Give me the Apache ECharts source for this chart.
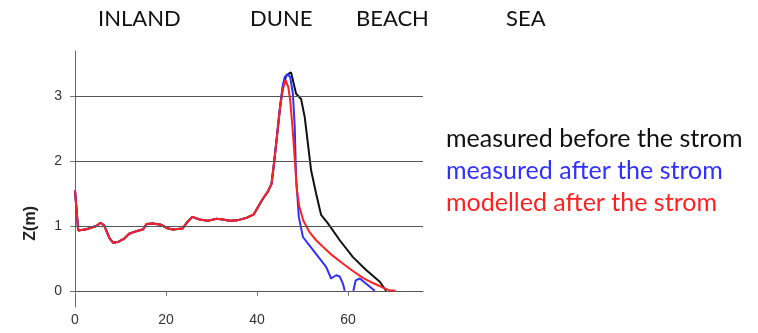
<!DOCTYPE html>
<html>
<head>
<meta charset="utf-8">
<title>Dune profile</title>
<script src="https://cdn.jsdelivr.net/npm/echarts@6/dist/echarts.min.js"></script>
<style>
  html, body { margin: 0; padding: 0; background: #fff; }
  #chart { width: 758px; height: 333px; }
</style>
</head>
<body>
<div id="chart"></div>
<script>
// zone labels over the profile
const zoneLabels = ["INLAND", "DUNE", "BEACH", "SEA"];
const zoneX = [98, 250, 356, 506];

const seriesNames = [
  "measured before the strom",
  "measured after the strom",
  "modelled after the strom",
];
const seriesColors = ["#111111", "#3030ff", "#ff2020"];

const xTicks = [0, 20, 40, 60];
const yTicks = [0, 1, 2, 3];

// inland part: all three profiles coincide here
const inland = [
  [0, 1.55], [0.7, 0.93], [2.5, 0.95], [4.7, 1.0], [5.6, 1.05], [6.4, 1.01],
  [7.6, 0.81], [8.4, 0.74], [9.5, 0.755], [10.9, 0.81], [11.9, 0.88],
  [13.5, 0.92], [15, 0.95], [15.7, 1.03], [17.1, 1.04], [18.9, 1.02],
  [20.1, 0.97], [21.5, 0.945], [23.6, 0.96], [24.8, 1.07], [25.8, 1.14],
  [27.4, 1.1], [29.2, 1.08], [31.1, 1.11], [32.5, 1.1], [34, 1.08],
  [35.8, 1.09], [37.7, 1.125], [39.3, 1.18], [40.2, 1.29], [41.3, 1.42],
  [42.4, 1.53], [43.2, 1.65], [43.7, 1.94],
];

const duneBefore = [
  [44.5, 2.45], [45.2, 2.9], [45.8, 3.17], [46.4, 3.31], [47.0, 3.35],
  [47.5, 3.37], [48.6, 3.04], [49.7, 2.96], [50.5, 2.68], [51.2, 2.27],
  [51.9, 1.86], [53.0, 1.5], [54.1, 1.17], [55.6, 1.04], [58.2, 0.78],
  [61.1, 0.52], [64.0, 0.32], [67.0, 0.14], [68.4, 0],
];

const duneAfter = [
  [44.4, 2.4], [44.8, 2.68], [45.6, 3.14], [46.1, 3.3], [46.7, 3.34],
  [47.3, 3.3], [47.9, 3.04], [48.3, 2.53], [48.6, 1.76], [49.2, 1.14],
  [50.1, 0.83], [52.3, 0.63], [55.2, 0.37], [56.3, 0.19], [57.4, 0.24],
  [58.2, 0.22], [58.9, 0.11], [59.3, 0], [60.2, null], [61.2, 0],
  [61.7, 0.16], [62.6, 0.19], [64, 0.11], [65.9, 0],
];

const duneModel = [
  [44.4, 2.37], [45, 2.78], [45.6, 3.09], [46.3, 3.25], [46.9, 3.14],
  [47.3, 2.94], [47.8, 2.53], [48.3, 2.05], [48.7, 1.6], [49.3, 1.3],
  [50.2, 1.08], [51.6, 0.9], [53, 0.78], [54.5, 0.68], [56.5, 0.55],
  [58.5, 0.44], [61, 0.31], [63.3, 0.2], [65.5, 0.12], [67.7, 0.05],
  [69, 0.01], [70.5, 0],
];

const profiles = [duneBefore, duneAfter, duneModel];

const chart = echarts.init(document.getElementById("chart"));

const titles = zoneLabels.map((t, i) => ({
  text: t,
  left: zoneX[i],
  top: 8,
  padding: 0,
  textStyle: {
    fontFamily: "Lato",
    fontWeight: "normal",
    fontSize: 22,
    color: "#111",
  },
}));

const series = profiles.map((dune, i) => ({
  name: seriesNames[i],
  type: "line",
  data: inland.concat(dune),
  showSymbol: false,
  symbol: "none",
  connectNulls: false,
  lineStyle: { color: seriesColors[i], width: 2 },
  itemStyle: { color: seriesColors[i] },
}));

// horizontal grid lines at 1, 2, 3
series[0].markLine = {
  silent: true,
  symbol: "none",
  label: { show: false },
  lineStyle: { color: "#555", type: "solid", width: 1 },
  data: yTicks.slice(1).map((v) => ({ yAxis: v })),
};
series[0].z = 1;

chart.setOption({
  animation: false,
  title: titles,
  legend: {
    orient: "vertical",
    left: 436,
    top: 121,
    itemGap: 7,
    itemWidth: 0,
    itemHeight: 0,
    icon: "none",
    selectedMode: false,
    textStyle: { fontFamily: "Lato", fontSize: 25 },
    data: seriesNames.map((n, i) => ({
      name: n,
      textStyle: { color: seriesColors[i] },
    })),
  },
  graphic: [{
    type: "text",
    left: 23,
    top: 206,
    rotation: Math.PI / 2,
    style: {
      text: "Z(m)",
      font: "bold 16px 'Liberation Sans'",
      fill: "#222",
    },
  }],
  grid: { left: 75, right: 335, top: 51, bottom: 26, outerBoundsMode: "none" },
  xAxis: {
    type: "value",
    min: 0,
    max: 76.5,
    axisLine: { onZero: true, lineStyle: { color: "#555", width: 1 } },
    axisTick: { length: 5, customValues: xTicks, lineStyle: { color: "#777" } },
    axisLabel: {
      customValues: xTicks,
      margin: 6,
      fontFamily: "Liberation Sans",
      fontSize: 14,
      color: "#333",
    },
    splitLine: { show: false },
  },
  yAxis: {
    type: "value",
    min: -0.25,
    max: 3.7,
    axisLine: { show: true, onZero: false, lineStyle: { color: "#666", width: 1 } },
    axisTick: { show: true, length: 5, customValues: yTicks, lineStyle: { color: "#777" } },
    axisLabel: {
      customValues: yTicks,
      margin: 13,
      fontFamily: "Liberation Sans",
      fontSize: 14,
      color: "#333",
    },
    splitLine: { show: false },
  },
  series: series,
});
</script>
</body>
</html>
